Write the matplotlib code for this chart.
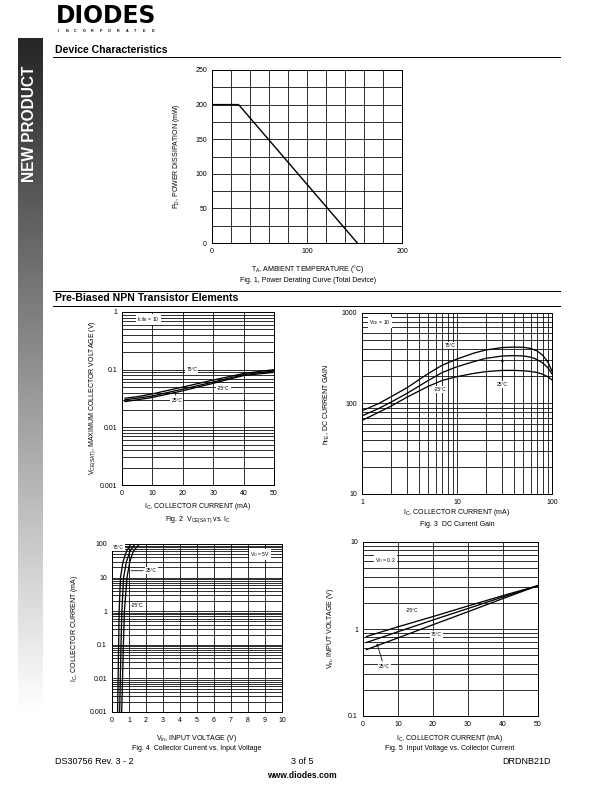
import numpy as np
import matplotlib
matplotlib.use('Agg')
import matplotlib.pyplot as plt
from matplotlib.ticker import LogLocator, NullFormatter, FixedLocator, FixedFormatter, MultipleLocator

plt.rcParams['font.family'] = ['Liberation Sans', 'DejaVu Sans']
plt.rcParams['mathtext.default'] = 'regular'
plt.rcParams['axes.linewidth'] = 1.0

# ---------------- data ----------------
fig1_temp = [0, 28, 153]
fig1_power = [200, 200, 0]

fig2_ic = [1, 5, 10, 20, 30, 40, 50]
fig2_vce_75 = [0.032, 0.034, 0.038, 0.050, 0.066, 0.086, 0.100]
fig2_vce_m25 = [0.030, 0.032, 0.035, 0.046, 0.061, 0.082, 0.095]
fig2_vce_25 = [0.028, 0.030, 0.033, 0.043, 0.058, 0.079, 0.090]

fig3_ic = [1, 1.5, 2, 3, 5, 7, 10, 15, 20, 30, 40, 50, 60, 70, 80, 90, 100]
fig3_hfe_75 = [83, 100, 118, 150, 215, 265, 310, 360, 390, 415, 420, 418, 405, 380, 340, 290, 228]
fig3_hfe_25 = [73, 88, 103, 130, 180, 220, 255, 290, 315, 335, 338, 335, 325, 305, 280, 250, 212]
fig3_hfe_m25 = [65, 80, 93, 118, 155, 180, 198, 215, 225, 232, 232, 230, 226, 220, 210, 198, 182]

fig4_ic = [0.001, 0.01, 0.1, 1, 10, 30, 60, 100]
fig4_vin_75 = [0.33, 0.36, 0.39, 0.42, 0.50, 0.65, 0.85, 1.10]
fig4_vin_25 = [0.45, 0.49, 0.53, 0.58, 0.68, 0.85, 1.05, 1.35]
fig4_vin_m25 = [0.57, 0.62, 0.67, 0.73, 0.88, 1.05, 1.25, 1.60]

fig5_ic = [1, 10, 20, 30, 40, 50]
fig5_vin_m25 = [0.82, 1.06, 1.39, 1.84, 2.42, 3.15]
fig5_vin_75 = [0.70, 0.93, 1.27, 1.72, 2.34, 3.15]
fig5_vin_25 = [0.58, 0.79, 1.12, 1.58, 2.24, 3.15]

W, H = 612, 792
fig = plt.figure(figsize=(W / 72, H / 72), dpi=72)


def ax_at(x0, y0, x1, y1):
    return fig.add_axes([x0 / W, 1 - y1 / H, (x1 - x0) / W, (y1 - y0) / H])


def ft(x, y, s, **kw):
    kw.setdefault('va', 'center')
    return fig.text(x / W, 1 - y / H, s, **kw)


FS = 7
BOX = dict(fc='white', ec='none', pad=1.0)

# ---------------- page furniture ----------------
# sidebar gradient
sb = ax_at(18, 38, 42, 752)
grad = np.linspace(0.15, 1.05, 256).reshape(-1, 1)
sb.imshow(np.clip(grad, 0, 1), cmap='gray', vmin=0, vmax=1, aspect='auto',
          extent=[0, 1, 0, 1], origin='upper')
sb.axis('off')
ft(30, 124, 'NEW PRODUCT', rotation=90, color='white', fontsize=15.5,
   fontweight='bold', ha='center')

# logo
ft(56, 16, 'DIODES', fontsize=23.5, fontweight='bold', ha='left',
   family=['DejaVu Sans'])
for i, ch in enumerate('INCORPORATED'):
    ft(58 + i * 8.6, 30.5, ch, fontsize=3.6, fontweight='bold', ha='center')

# section headers
ft(55, 50, 'Device Characteristics', fontsize=10.5, fontweight='bold', ha='left')
fig.add_artist(plt.Line2D([53 / W, 560 / W], [1 - 57 / H, 1 - 57 / H], color='black', lw=1.0))
fig.add_artist(plt.Line2D([53 / W, 560 / W], [1 - 291 / H, 1 - 291 / H], color='black', lw=1.0))
ft(55, 298, 'Pre-Biased NPN Transistor Elements', fontsize=10.5, fontweight='bold', ha='left')
fig.add_artist(plt.Line2D([53 / W, 560 / W], [1 - 306 / H, 1 - 306 / H], color='black', lw=1.0))

# footer
ft(55, 761, 'DS30756 Rev. 3 - 2', fontsize=9, ha='left')
ft(302, 761, '3 of 5', fontsize=9, ha='center')
ft(551, 761, 'DRDNB21D', fontsize=9, ha='right')
ft(302, 775, 'www.diodes.com', fontsize=8.5, fontweight='bold', ha='center')


def style(ax):
    ax.tick_params(which='both', length=0, labelsize=FS, pad=5)
    ax.grid(True, which='both', color='black', lw=0.8)
    ax.set_axisbelow(True)
    for s in ax.spines.values():
        s.set_linewidth(1.0)


def logy(ax, lo, hi, labels):
    ax.set_yscale('log')
    ax.set_ylim(lo, hi)
    ax.yaxis.set_major_locator(FixedLocator([float(l) for l in labels]))
    ax.yaxis.set_major_formatter(FixedFormatter(labels))
    ax.yaxis.set_minor_locator(LogLocator(base=10, subs=np.arange(2, 10)))
    ax.yaxis.set_minor_formatter(NullFormatter())


# ---------------- Fig 1 ----------------
a1 = ax_at(212, 70, 402, 243)
a1.plot(fig1_temp, fig1_power, color='black', lw=1.4)
a1.set_xlim(0, 200)
a1.set_ylim(0, 250)
a1.xaxis.set_major_locator(FixedLocator([0, 100, 200]))
a1.xaxis.set_minor_locator(MultipleLocator(20))
a1.yaxis.set_major_locator(MultipleLocator(50))
a1.yaxis.set_minor_locator(MultipleLocator(25))
style(a1)
ft(176, 156, 'P$_D$, POWER DISSIPATION (mW)', fontsize=FS, rotation=90, ha='center')
ft(308, 269, 'T$_A$, AMBIENT TEMPERATURE (°C)', fontsize=FS, ha='center')
ft(308, 281, 'Fig. 1, Power Derating Curve (Total Device)', fontsize=FS, ha='center')

# ---------------- Fig 2 ----------------
a2 = ax_at(122, 312, 274, 485)
for v in (fig2_vce_75, fig2_vce_m25, fig2_vce_25):
    a2.plot(fig2_ic, v, color='black', lw=1.3)
a2.set_xlim(0, 50)
a2.xaxis.set_major_locator(MultipleLocator(10))
logy(a2, 0.001, 1, ['0.001', '0.01', '0.1', '1'])
style(a2)
a2.text(8.7, 0.73, 'I$_C$/I$_B$ = 10', fontsize=5, ha='center', va='center', bbox=BOX)
a2.text(23, 0.1, '75°C', fontsize=5, ha='center', va='center', bbox=BOX)
a2.text(33.3, 0.047, '-25°C', fontsize=5, ha='center', va='center', bbox=BOX)
a2.annotate('25°C', xy=(17.5, 0.041), xytext=(18, 0.029), fontsize=5, ha='center',
            va='center', bbox=BOX, arrowprops=dict(arrowstyle='-', color='black', lw=0.8))
ft(93, 398, 'V$_{CE(SAT)}$, MAXIMUM COLLECTOR VOLTAGE (V)', fontsize=FS, rotation=90, ha='center')
ft(198, 507, 'I$_C$, COLLECTOR CURRENT (mA)', fontsize=FS, ha='center')
ft(198, 520, 'Fig. 2  V$_{CE(SAT)}$ vs. I$_C$', fontsize=FS, ha='center')

# ---------------- Fig 3 ----------------
a3 = ax_at(362, 313, 552, 494)
for v in (fig3_hfe_75, fig3_hfe_25, fig3_hfe_m25):
    a3.plot(fig3_ic, v, color='black', lw=1.3)
a3.set_xscale('log')
a3.set_xlim(1, 100)
a3.xaxis.set_major_locator(FixedLocator([1, 10, 100]))
a3.xaxis.set_major_formatter(FixedFormatter(['1', '10', '100']))
a3.xaxis.set_minor_locator(LogLocator(base=10, subs=np.arange(2, 10)))
a3.xaxis.set_minor_formatter(NullFormatter())
logy(a3, 10, 1000, ['10', '100', '1000'])
style(a3)
a3.text(1.55, 787, 'V$_{CE}$ = 10', fontsize=5, ha='center', va='center', bbox=BOX)
a3.text(8.4, 432, '75°C', fontsize=5, ha='center', va='center', bbox=BOX)
a3.text(6.6, 144, '-25°C', fontsize=5, ha='center', va='center', bbox=BOX)
a3.annotate('25°C', xy=(30, 330), xytext=(30, 163), fontsize=5, ha='center', va='center',
            bbox=BOX, arrowprops=dict(arrowstyle='->', color='black', lw=0.8))
ft(327, 404, 'h$_{FE}$, DC CURRENT GAIN', fontsize=FS, rotation=90, ha='center')
ft(457, 512, 'I$_C$, COLLECTOR CURRENT (mA)', fontsize=FS, ha='center')
ft(457, 524, 'Fig. 3  DC Current Gain', fontsize=FS, ha='center')

# ---------------- Fig 4 ----------------
a4 = ax_at(112, 544, 282, 712)
for v in (fig4_vin_75, fig4_vin_25, fig4_vin_m25):
    a4.plot(v, fig4_ic, color='black', lw=1.3)
a4.set_xlim(0, 10)
a4.xaxis.set_major_locator(MultipleLocator(1))
logy(a4, 0.001, 100, ['0.001', '0.01', '0.1', '1', '10', '100'])
style(a4)
a4.text(0.05, 78, '75°C', fontsize=5, ha='left', va='center', bbox=BOX)
a4.annotate('25°C', xy=(1.0, 16), xytext=(2.0, 16), fontsize=5, ha='left', va='center',
            bbox=BOX, arrowprops=dict(arrowstyle='-', color='black', lw=0.8))
a4.text(1.1, 1.5, '-25°C', fontsize=5, ha='left', va='center', bbox=BOX)
a4.text(8.7, 48, 'V$_O$ = 5V', fontsize=5, ha='center', va='center', bbox=BOX)
ft(75, 628, 'I$_C$, COLLECTOR CURRENT (mA)', fontsize=FS, rotation=90, ha='center')
ft(197, 738, 'V$_{in}$, INPUT VOLTAGE (V)', fontsize=FS, ha='center')
ft(197, 749, 'Fig. 4  Collector Current vs. Input Voltage', fontsize=FS, ha='center')

# ---------------- Fig 5 ----------------
a5 = ax_at(363, 542, 538, 716)
for v in (fig5_vin_m25, fig5_vin_75, fig5_vin_25):
    a5.plot(fig5_ic, v, color='black', lw=1.3)
a5.set_xlim(0, 50)
a5.xaxis.set_major_locator(MultipleLocator(10))
logy(a5, 0.1, 10, ['0.1', '1', '10'])
style(a5)
a5.text(6.4, 6.2, 'V$_O$ = 0.2', fontsize=5, ha='center', va='center', bbox=BOX)
a5.text(14, 1.64, '-25°C', fontsize=5, ha='center', va='center', bbox=BOX)
a5.text(21, 0.86, '75°C', fontsize=5, ha='center', va='center', bbox=BOX)
a5.annotate('25°C', xy=(3.8, 0.72), xytext=(6, 0.37), fontsize=5, ha='center', va='center',
            bbox=BOX, arrowprops=dict(arrowstyle='->', color='black', lw=0.8))
ft(330, 628, 'V$_{in}$, INPUT VOLTAGE (V)', fontsize=FS, rotation=90, ha='center')
ft(450, 738, 'I$_C$, COLLECTOR CURRENT (mA)', fontsize=FS, ha='center')
ft(450, 749, 'Fig. 5  Input Voltage vs. Collector Current', fontsize=FS, ha='center')

fig.savefig('out.png', dpi=72)
